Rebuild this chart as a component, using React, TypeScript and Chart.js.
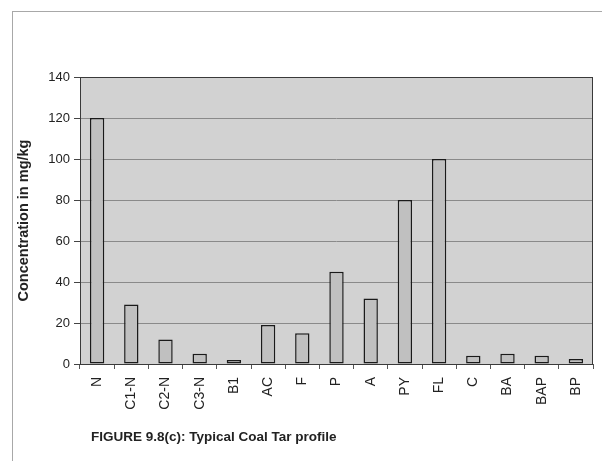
import React, { useEffect, useRef } from "react";
import { Chart, registerables } from "chart.js";

Chart.register(...registerables);

const categories = ["N", "C1-N", "C2-N", "C3-N", "B1", "AC", "F", "P", "A", "PY", "FL", "C", "BA", "BAP", "BP"];
const concentrations = [120, 29, 12, 5, 2, 19, 15, 45, 32, 80, 100, 4, 5, 4, 2.5];
const yTicks = [0, 20, 40, 60, 80, 100, 120, 140];
const yTitle = "Concentration in mg/kg";
const caption = "FIGURE 9.8(c): Typical Coal Tar profile";

const FONT = "'Liberation Sans', Arial, sans-serif";

const plotFrame = {
  id: "plotFrame",
  beforeDraw(chart: any) {
    const { ctx, chartArea: a } = chart;
    ctx.save();
    ctx.fillStyle = "#d2d2d2";
    ctx.fillRect(a.left, a.top, a.right - a.left, a.bottom - a.top);
    ctx.restore();
  },
  afterDraw(chart: any) {
    const { ctx, chartArea: a } = chart;
    ctx.save();
    ctx.strokeStyle = "#3a3a3a";
    ctx.lineWidth = 1;
    ctx.strokeRect(Math.round(a.left) + 0.5, Math.round(a.top) + 0.5, Math.round(a.right - a.left) - 1, Math.round(a.bottom - a.top));
    ctx.restore();
  },
};

export default function App() {
  const ref = useRef<HTMLCanvasElement | null>(null);

  useEffect(() => {
    if (!ref.current) return;
    const chart = new Chart(ref.current, {
      type: "bar",
      data: {
        labels: categories,
        datasets: [
          {
            data: concentrations,
            backgroundColor: "#c0c0c0",
            borderColor: "#1a1a1a",
            borderWidth: 1.5,
            borderSkipped: false,
            categoryPercentage: 1,
            barPercentage: 0.42,
          },
        ],
      },
      options: {
        responsive: false,
        animation: false,
        layout: { padding: { left: 0, top: 77, right: 9, bottom: 0 } },
        plugins: { legend: { display: false }, tooltip: { enabled: false }, title: { display: false } },
        scales: {
          x: {
            grid: { display: true, drawOnChartArea: false, drawTicks: true, tickLength: 5, tickColor: "#555" },
            border: { display: false },
            ticks: {
              autoSkip: false,
              maxRotation: 90,
              minRotation: 90,
              padding: 8,
              color: "#222",
              font: { family: FONT, size: 14 },
            },
            afterFit(scale: any) {
              scale.height = 97;
            },
          },
          y: {
            min: 0,
            max: 140,
            afterBuildTicks(scale: any) {
              scale.ticks = yTicks.map((v) => ({ value: v }));
            },
            grid: { color: "#8a8a8a", lineWidth: 1, drawTicks: true, tickLength: 6, tickColor: "#444" },
            border: { display: false },
            ticks: { padding: 4, color: "#222", font: { family: FONT, size: 13 } },
            title: {
              display: true,
              text: yTitle,
              color: "#222",
              font: { family: FONT, size: 14.5, weight: "bold" },
              padding: { top: 15, bottom: 0 },
            },
            afterFit(scale: any) {
              scale.width = 80;
            },
          },
        },
      },
      plugins: [plotFrame],
    });
    return () => chart.destroy();
  }, []);

  return (
    <div style={{ position: "fixed", left: 0, top: 0, width: 602, height: 461, background: "#fff", overflow: "hidden" }}>
      <div
        style={{
          position: "absolute",
          left: 12,
          top: 11,
          width: 600,
          height: 460,
          borderLeft: "1px solid #a8a8a8",
          borderTop: "1px solid #a8a8a8",
        }}
      />
      <canvas ref={ref} width={602} height={461} style={{ position: "absolute", left: 0, top: 0 }} />
      <div
        style={{
          position: "absolute",
          left: 91,
          top: 429,
          fontFamily: FONT,
          fontWeight: "bold",
          fontSize: 13.5,
          lineHeight: "16px",
          color: "#222",
          whiteSpace: "nowrap",
        }}
      >
        {caption}
      </div>
    </div>
  );
}
